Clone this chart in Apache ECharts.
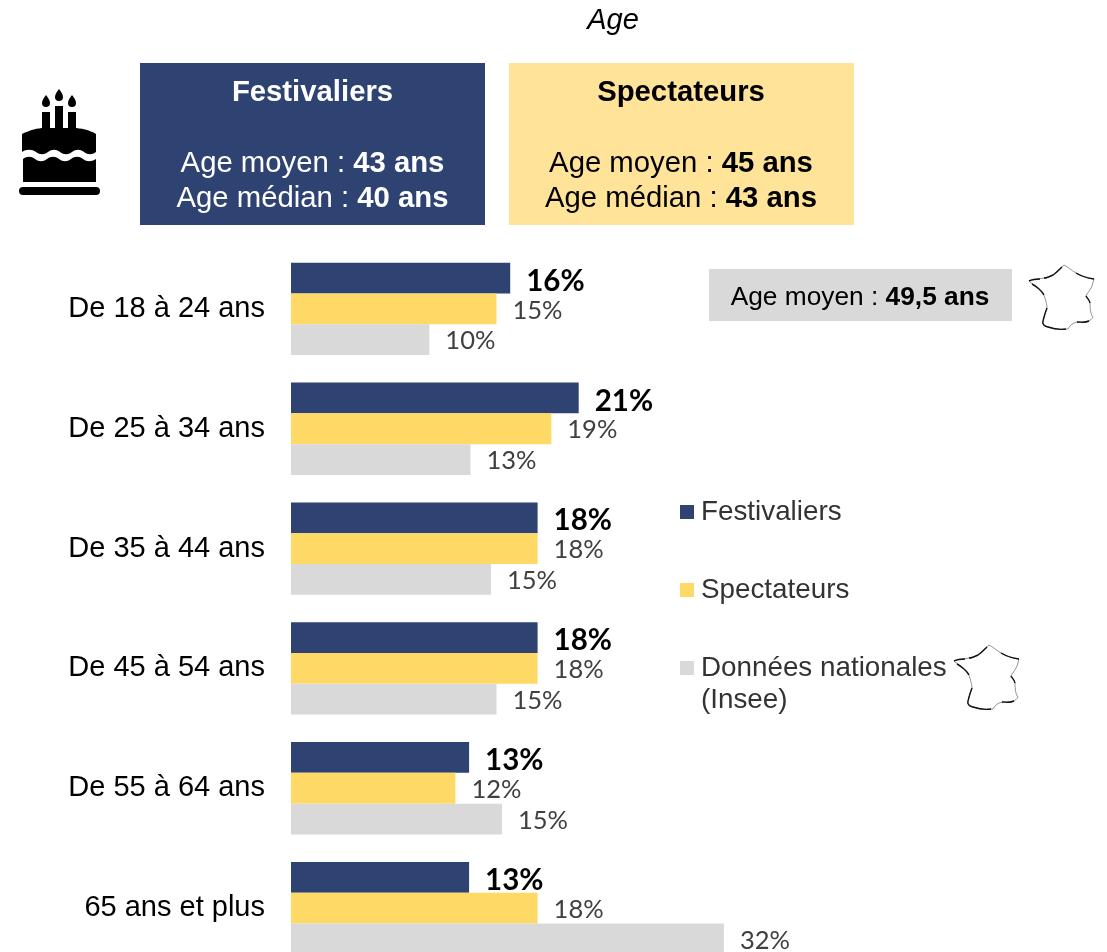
<!DOCTYPE html>
<html><head><meta charset="utf-8">
<style>html,body{margin:0;padding:0;background:#fff;overflow:hidden;width:1107px;height:952px}#c{width:1107px;height:990px}</style>
<script src="https://cdn.jsdelivr.net/npm/echarts@6/dist/echarts.min.js"></script>
</head><body><div id="c"></div>
<script>
const categories = ['De 18 à 24 ans','De 25 à 34 ans','De 35 à 44 ans','De 45 à 54 ans','De 55 à 64 ans','65 ans et plus'];
const festivaliers = [16,21,18,18,13,13];
const spectateurs = [15,19,18,18,12,18];
const nationales = [10.1,13.1,14.6,15,15.4,31.6];
const seriesNames = ['Festivaliers','Spectateurs','Données nationales'];
const NAVY='#2E4372', YEL='#FFD966', GRY='#D9D9D9', ARIAL='"Liberation Sans",Arial,sans-serif', LAB='Lato,"Open Sans",sans-serif';
const cake='M46 95c-2 3-4 5-4 8a4 4 0 0 0 8 0c0-3-2-5-4-8zM59 89c-2 3-4 5-4 8a4 4 0 0 0 8 0c0-3-2-5-4-8zM72 95c-2 3-4 5-4 8a4 4 0 0 0 8 0c0-3-2-5-4-8zM42 112h8v18h-8zM55 106h8v24h-8zM68 112h8v18h-8zM22 134c8-4 16-6 22-6h30c6 0 16 2 22 6v18c-4 3-8 3-12 0c-4-3-8-3-12 0c-4 3-8 3-12 0c-4-3-8-3-12 0c-4 3-8 3-12 0c-4-3-10-3-14 0zM23 159c4-3 8-3 12 0c4 3 8 3 12 0c4-3 8-3 12 0c4 3 8 3 12 0c4-3 8-3 12 0c4 3 8 3 13 0v23h-73zM23 187h73a4 4 0 0 1 0 8h-73a4 4 0 0 1 0-8z';
const france='M35 0C30 4 27 8 24 10C20 12 18 13 15 13C10 14 4 14 0 16M1 17C5 20 7 22 9 23C13 26 15 30 16 33C17 37 18 40 18 43C16 48 15 52 14 56C13 59 15 61 19 62C25 64 30 65 39 64C41 60 44 58 48 57C53 57 56 58 59 56C62 55 63 54 64 52C62 50 61 45 61 38C60 34 58 33 57 31C58 28 61 26 63 21C64 18 64 17 65 14C58 13 52 11 47 8C42 5 39 2 35 0';
const franceDark='M33 2C30 5 27 8 24 10C20 12 18 13 15 13M0 16C4 14 8 14 11 14M3 19C7 21 13 26 15 30M18 43C16 48 15 52 14 56C13 59 15 61 19 62C25 64 30 65 37 64M48 57C53 57 56 58 60 56M61 38C60 34 58 33 57 31M65 14C58 13 52 11 47 8';
echarts.graphic.registerShape('cakeIcon',echarts.graphic.extendPath(cake,{}));
echarts.graphic.registerShape('franceIcon',echarts.graphic.extendPath(france,{}));
echarts.graphic.registerShape('franceDarkIcon',echarts.graphic.extendPath(franceDark,{}));
function franceAt(x,y){return [{type:'franceIcon',x:x,y:y,style:{fill:'none',stroke:'#777',lineWidth:0.8}},{type:'franceDarkIcon',x:x,y:y,style:{fill:'none',stroke:'#111',lineWidth:1.4}}];}
function lbl(c,bold){return {show:true,position:'right',distance:16,offset:[0,bold?3:1.5],fontFamily:LAB,fontSize:bold?29.5:25.5,fontWeight:bold?'bold':'normal',color:c,formatter:p=>Math.round(p.value)+'%'};}
function box(x,y,w,h,fill){return {type:'rect',shape:{x,y,width:w,height:h},style:{fill}};}
function boxText(cx,title,moy,med,col){
  const rich={n:{fontFamily:ARIAL,fontSize:29.3,color:col},b:{fontFamily:ARIAL,fontSize:29.3,fontWeight:'bold',color:col}};
  const t=(y,s)=>({type:'text',x:cx,y,style:{text:s,rich,align:'center',verticalAlign:'middle',fill:col}});
  return [
    {type:'text',x:cx,y:93,style:{text:title,font:'bold 29.3px '+ARIAL,fill:col,align:'center',verticalAlign:'middle'}},
    t(164,'{n|Age moyen : }{b|'+moy+'}'),t(199,'{n|Age médian : }{b|'+med+'}')];
}
const chart=echarts.init(document.getElementById('c'),null,{renderer:'canvas'});
chart.setOption({
  animation:false,backgroundColor:'#fff',
  title:{text:'Age',left:608,top:16,textAlign:'center',textVerticalAlign:'middle',textStyle:{fontFamily:ARIAL,fontSize:29,fontStyle:'italic',fontWeight:'normal',color:'#000'}},
  grid:{left:291,top:249,width:548,height:719,containLabel:false},
  xAxis:{type:'value',min:0,max:40,show:false},
  yAxis:{type:'category',data:categories,inverse:true,axisLine:{show:false},axisTick:{show:false},
    axisLabel:{margin:26,padding:[3,0,0,0],fontFamily:ARIAL,fontSize:29,color:'#000'}},
  legend:{orient:'vertical',left:675,top:493,itemWidth:14,itemHeight:14,itemGap:50,icon:'rect',
    data:seriesNames,textStyle:{fontFamily:ARIAL,fontSize:27.8,color:'#333',padding:[0,0,0,2]}},
  series:[
    {name:seriesNames[0],type:'bar',data:festivaliers,barGap:0,barCategoryGap:'23%',itemStyle:{color:NAVY},label:lbl('#000',true)},
    {name:seriesNames[1],type:'bar',data:spectateurs,itemStyle:{color:YEL},label:lbl('#404040',false)},
    {name:seriesNames[2],type:'bar',data:nationales,itemStyle:{color:GRY},label:lbl('#404040',false)}
  ],
  graphic:[
    {type:'cakeIcon',style:{fill:'#000'}},
    box(140,63,345,162,NAVY),box(509,63,345,162,'#FFE399'),box(709,269,303,52,GRY),
    ...boxText(312.5,'Festivaliers','43 ans','40 ans','#fff'),
    ...boxText(681,'Spectateurs','45 ans','43 ans','#000'),
    {type:'text',x:860,y:298,style:{text:'{n|Age moyen : }{b|49,5 ans}',align:'center',verticalAlign:'middle',rich:{n:{fontFamily:ARIAL,fontSize:26.3,color:'#000'},b:{fontFamily:ARIAL,fontSize:26.3,fontWeight:'bold',color:'#000'}}}},
    {type:'text',x:701,y:700,style:{text:'(Insee)',font:'27.8px '+ARIAL,fill:'#333',verticalAlign:'middle'}},
    ...franceAt(1029,265),...franceAt(954,645)
  ]
});
</script></body></html>
